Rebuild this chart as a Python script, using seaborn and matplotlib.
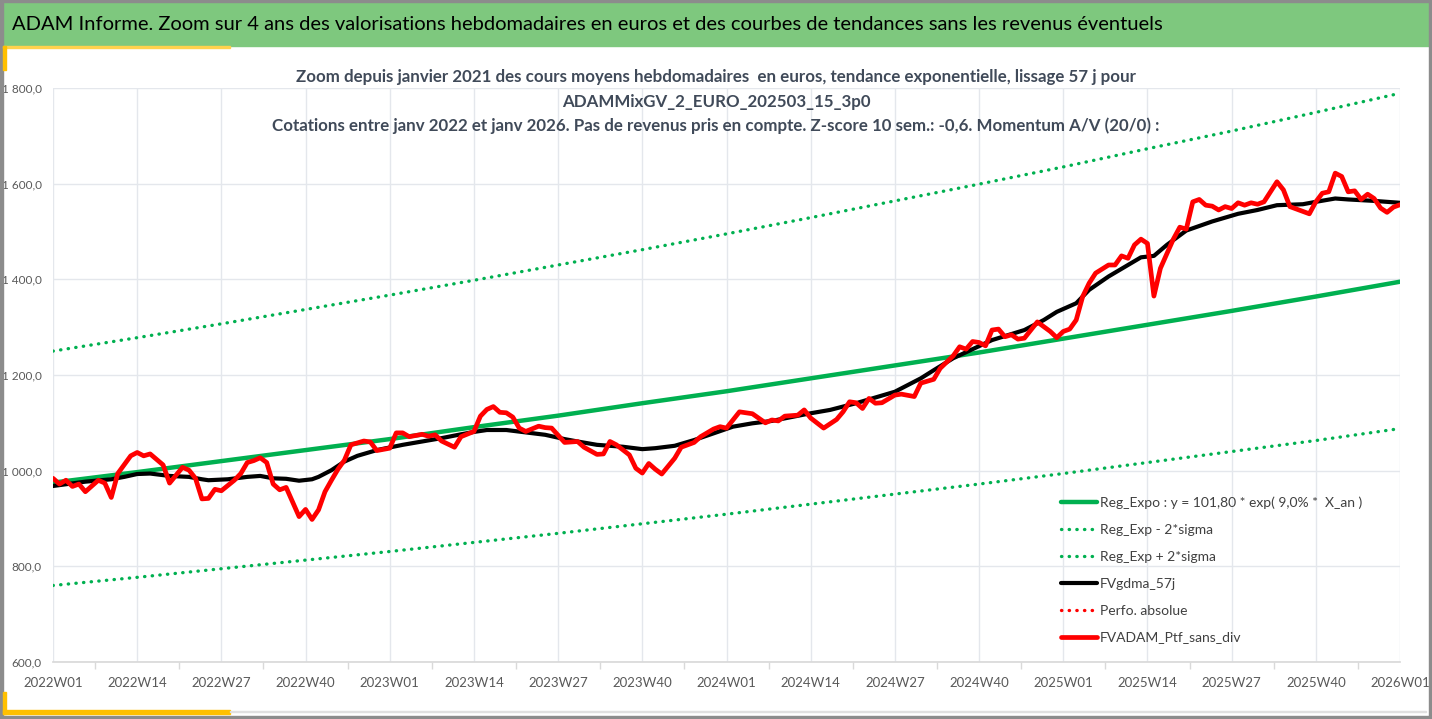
import numpy as np
import pandas as pd
import matplotlib
matplotlib.use("Agg")
import matplotlib.pyplot as plt
from matplotlib.patches import Rectangle
import seaborn as sns

# x = week index since 2022W01 (52 weeks per year)
tick_weeks = [0, 13, 26, 39, 52, 65, 78, 91, 104, 117, 130, 143, 156, 169, 182, 195, 208]
tick_labels = ['2022W01', '2022W14', '2022W27', '2022W40', '2023W01', '2023W14', '2023W27', '2023W40',
               '2024W01', '2024W14', '2024W27', '2024W40', '2025W01', '2025W14', '2025W27', '2025W40',
               '2026W01']

# trend lines read at each label
trend_weeks = tick_weeks
trend_mid = [975, 997, 1020, 1043, 1066, 1091, 1115, 1141, 1166, 1193, 1220, 1247, 1276, 1305, 1334, 1364, 1395]
trend_low = [760, 777, 795, 813, 831, 850, 869, 889, 909, 930, 951, 972, 994, 1017, 1040, 1063, 1088]
trend_high = [1250, 1278, 1307, 1337, 1367, 1398, 1430, 1462, 1495, 1529, 1564, 1599, 1635, 1673, 1710, 1749, 1789]

# FVgdma_57j (smoothed)
black_weeks = [0, 5, 9, 11, 13, 15, 18, 21, 23, 24, 27, 30, 32, 34, 36, 38, 40, 41, 43, 45, 47, 50, 54, 57,
               60, 63, 65, 67, 70, 73, 76, 79, 81, 84, 88, 91, 93, 96, 99, 102, 105, 108, 111, 114, 117, 120,
               124, 127, 130, 132, 134, 136, 139, 142, 145, 150, 153, 155, 158, 160, 163, 166, 168, 170, 172,
               175, 179, 183, 186, 189, 193, 195, 198, 200, 204, 208]
black_values = [968, 977, 982, 987, 993, 994, 989, 987, 982, 980, 982, 987, 989, 984, 983, 979, 982, 987, 1001,
                1019, 1031, 1043, 1054, 1061, 1068, 1076, 1081, 1085, 1085, 1080, 1075, 1066, 1061, 1054, 1050,
                1045, 1047, 1052, 1064, 1078, 1092, 1099, 1104, 1112, 1120, 1127, 1141, 1153, 1165, 1179, 1193,
                1210, 1235, 1254, 1273, 1294, 1315, 1332, 1350, 1378, 1406, 1430, 1446, 1449, 1472, 1502, 1521,
                1537, 1545, 1555, 1557, 1562, 1569, 1567, 1564, 1560]

# FVADAM_Ptf_sans_div (weekly)
red_weeks = [0, 1, 2, 3, 4, 5, 7, 8, 9, 10, 12, 13, 14, 15, 17, 18, 20, 21, 22, 23, 24, 25, 26, 28, 29, 30,
             31, 32, 33, 34, 35, 36, 38, 39, 40, 41, 42, 43, 44, 45, 46, 48, 49, 50, 52, 53, 54, 55, 57, 58,
             59, 60, 62, 63, 65, 66, 67, 68, 69, 70, 71, 72, 73, 75, 76, 77, 79, 81, 82, 84, 85, 86, 87, 89,
             90, 91, 92, 93, 94, 96, 97, 99, 100, 102, 103, 104, 106, 108, 110, 111, 112, 113, 115, 116, 117,
             119, 121, 122, 123, 124, 125, 126, 127, 128, 130, 131, 133, 134, 136, 137, 139, 140, 141, 142,
             143, 144, 145, 146, 147, 148, 149, 150, 152, 154, 155, 156, 157, 158, 159, 160, 161, 163, 164,
             165, 166, 167, 168, 169, 170, 171, 173, 174, 175, 176, 177, 178, 179, 180, 181, 182, 183, 184,
             185, 186, 187, 189, 190, 191, 192, 194, 195, 196, 197, 198, 199, 200, 201, 202, 203, 204, 205,
             206, 207, 208]
red_values = [984, 972, 980, 967, 972, 956, 980, 974, 944, 994, 1031, 1038, 1031, 1035, 1012, 974, 1007, 1001,
              984, 941, 942, 961, 958, 980, 994, 1017, 1021, 1027, 1017, 972, 960, 965, 904, 919, 898, 918,
              956, 980, 1003, 1022, 1054, 1062, 1060, 1042, 1047, 1079, 1079, 1071, 1076, 1072, 1075, 1062,
              1049, 1071, 1082, 1114, 1128, 1134, 1122, 1121, 1112, 1089, 1082, 1093, 1090, 1089, 1059, 1061,
              1049, 1034, 1035, 1061, 1054, 1033, 1005, 995, 1015, 1003, 993, 1026, 1049, 1059, 1071, 1087,
              1092, 1089, 1123, 1119, 1100, 1106, 1104, 1114, 1116, 1127, 1110, 1089, 1107, 1123, 1144, 1142,
              1130, 1151, 1141, 1142, 1158, 1160, 1155, 1183, 1191, 1214, 1240, 1259, 1254, 1270, 1268, 1261,
              1294, 1296, 1280, 1284, 1275, 1277, 1311, 1291, 1278, 1291, 1296, 1315, 1364, 1392, 1413, 1430,
              1430, 1449, 1444, 1472, 1484, 1475, 1365, 1423, 1484, 1509, 1505, 1562, 1567, 1555, 1553, 1545,
              1552, 1548, 1560, 1555, 1560, 1557, 1562, 1604, 1587, 1552, 1547, 1537, 1562, 1580, 1583, 1622,
              1615, 1583, 1585, 1567, 1578, 1569, 1549, 1540, 1551, 1556]

y_ticks = [600, 800, 1000, 1200, 1400, 1600, 1800]

GREEN = '#00B050'
RED = '#FF0000'
TXT = '#404A59'
AXTXT = '#595959'
GRID = '#E4E7EC'

sns.set_theme(style='white')
plt.rcParams['font.family'] = ['Lato', 'DejaVu Sans']

W, H = 1432, 719
fig = plt.figure(figsize=(W / 100, H / 100), dpi=100)
fig.patch.set_facecolor('white')

# frame decorations
fig.patches.append(Rectangle((0, 1 - 46 / H), 1, 46 / H, transform=fig.transFigure, color='#7EC87E', zorder=0))
for (x0, y0, w, h, c) in [(0, 0, 3, H, '#8C8C8C'), (0, 0, W, 2, '#8C8C8C'), (0, H - 3, W, 3, '#8C8C8C'),
                           (W - 3, 0, 3, H, '#8C8C8C'), (3, 46, 227, 2, '#FFD24D'), (3, 46, 3, 24, '#FFC000'),
                           (3, 692, 3, 22, '#FFC000'), (3, 710, 227, 4, '#FFC000'), (230, 711, W - 236, 1, '#E0E0E0')]:
    fig.patches.append(Rectangle((x0 / W, 1 - (y0 + h) / H), w / W, h / H, transform=fig.transFigure,
                                 color=c, zorder=1))

fig.text(12 / W, 1 - 25 / H,
         'ADAM Informe. Zoom sur 4 ans des valorisations hebdomadaires en euros et des courbes de tendances sans les revenus éventuels',
         fontsize=14.5, color='black', ha='left', va='center')

ax = fig.add_axes([53 / W, 1 - 662 / H, 1347 / W, 574 / H])
ax.set_facecolor('none')

sns.lineplot(x=trend_weeks, y=trend_mid, color=GREEN, lw=3.2, ax=ax, zorder=3,
             label='Reg_Expo : y = 101,80 * exp( 9,0% *  X_an )')
sns.lineplot(x=trend_weeks, y=trend_low, color=GREEN, lw=2.4, ls=(0, (0.1, 2.2)), dash_capstyle='round',
             ax=ax, zorder=3, label='Reg_Exp - 2*sigma')
sns.lineplot(x=trend_weeks, y=trend_high, color=GREEN, lw=2.4, ls=(0, (0.1, 2.2)), dash_capstyle='round',
             ax=ax, zorder=3, label='Reg_Exp + 2*sigma')
sns.lineplot(x=black_weeks, y=black_values, color='black', lw=3.0, ax=ax, zorder=4, label='FVgdma_57j')
ax.plot([], [], color=RED, lw=2.4, ls=(0, (0.1, 2.2)), dash_capstyle='round', label='Perfo. absolue')
sns.lineplot(x=red_weeks, y=red_values, color=RED, lw=3.4, ax=ax, zorder=5, label='FVADAM_Ptf_sans_div')

ax.set_xlim(0, 208)
ax.set_ylim(600, 1800)
ax.set_xticks(tick_weeks)
ax.set_xticklabels(tick_labels)
ax.set_xticks([w + 6.5 for w in tick_weeks[:-1]], minor=True)
ax.set_yticks(y_ticks)
ax.set_yticklabels([f"{v:,.1f}".replace(',', ' ').replace('.', ',') for v in y_ticks])
ax.tick_params(axis='x', which='major', length=0, pad=11, labelsize=9.5, labelcolor=AXTXT)
ax.tick_params(axis='x', which='minor', length=5, width=1, color='#D9D9D9', direction='out', bottom=True)
ax.tick_params(axis='y', length=0, pad=8, labelsize=8.5, labelcolor=AXTXT)
ax.grid(True, which='major', color=GRID, lw=1)
ax.set_axisbelow(True)
for s in ['top', 'right', 'left']:
    ax.spines[s].set_visible(False)
ax.spines['bottom'].set_color('#D9D9D9')
ax.set_xlabel('')
ax.set_ylabel('')

handles, labels = ax.get_legend_handles_labels()
ax.legend(handles, labels, loc='upper left', bbox_to_anchor=(1055 / W, 1 - 491 / H),
          bbox_transform=fig.transFigure, frameon=False, fontsize=10, labelcolor='#404040',
          handlelength=2.6, handletextpad=0.25, labelspacing=1.07, borderaxespad=0)

title_lines = [
    'Zoom depuis janvier 2021 des cours moyens hebdomadaires  en euros, tendance exponentielle, lissage 57 j pour',
    'ADAMMixGV_2_EURO_202503_15_3p0',
    'Cotations entre janv 2022 et janv 2026. Pas de revenus pris en compte. Z-score 10 sem.: -0,6. Momentum A/V (20/0) :',
]
for i, t in enumerate(title_lines):
    fig.text(716 / W, 1 - (77 + 24.5 * i) / H, t, ha='center', va='center', fontsize=12.2,
             fontweight='bold', color=TXT)

fig.savefig('out.png', dpi=100)
